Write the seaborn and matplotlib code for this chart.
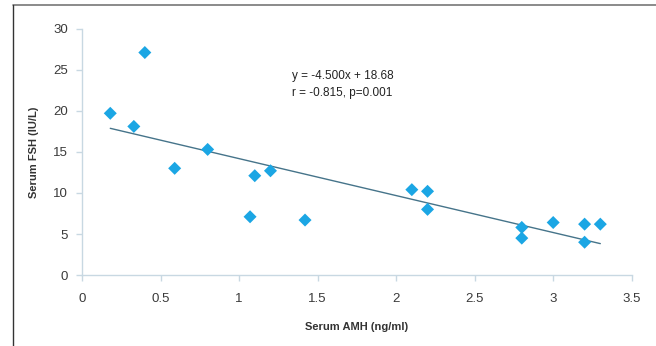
import matplotlib
matplotlib.use("Agg")
import matplotlib.pyplot as plt
import seaborn as sns
import numpy as np
import pandas as pd
from matplotlib.lines import Line2D

amh = [0.18, 0.33, 0.40, 0.59, 0.80, 1.07, 1.10, 1.20, 1.42, 2.10, 2.20, 2.20, 2.80, 2.80, 3.00, 3.20, 3.20, 3.30]
fsh = [19.7, 18.1, 27.1, 13.0, 15.3, 7.1, 12.1, 12.7, 6.7, 10.4, 10.2, 8.0, 5.8, 4.5, 6.4, 6.2, 4.0, 6.2]
slope = -4.500
intercept = 18.68
eq_text = "y = -4.500x + 18.68"
r_text = "r = -0.815, p=0.001"
x_ticks = [0, 0.5, 1, 1.5, 2, 2.5, 3, 3.5]
x_tick_labels = ["0", "0.5", "1", "1.5", "2", "2.5", "3", "3.5"]
y_ticks = [0, 5, 10, 15, 20, 25, 30]

df = pd.DataFrame({"amh": amh, "fsh": fsh})

sns.set_theme(style="white")
plt.rcParams['font.family'] = ['Liberation Sans', 'DejaVu Sans']

fig = plt.figure(figsize=(6.56, 3.46), dpi=100)
ax = fig.add_axes([0.125, 0.205, 0.838, 0.712])

sns.scatterplot(data=df, x="amh", y="fsh", marker="D", s=44, color="#1ba6e4",
                edgecolor="none", ax=ax, zorder=3)

xl = np.array([min(amh), max(amh)])
ax.plot(xl, slope * xl + intercept, color="#46748a", lw=1.0, zorder=2)

ax.set_xlim(0, 3.5)
ax.set_ylim(0, 30)
ax.set_xticks(x_ticks)
ax.set_xticklabels(x_tick_labels)
ax.set_yticks(y_ticks)

for s in ["top", "right"]:
    ax.spines[s].set_visible(False)
for s in ["left", "bottom"]:
    ax.spines[s].set_color("#c8d8e2")
    ax.spines[s].set_linewidth(1.0)

ax.tick_params(axis="both", which="major", direction="out", length=4, width=1,
               color="#c8d8e2", labelsize=9.5, labelcolor="#3a3a3a",
               bottom=True, left=True)
ax.tick_params(axis="x", pad=9)
ax.tick_params(axis="y", pad=6)

ax.set_xlabel("Serum AMH (ng/ml)", fontsize=8, fontweight="bold", color="#333333", labelpad=12)
ax.set_ylabel("Serum FSH (IU/L)", fontsize=8, fontweight="bold", color="#333333", labelpad=10)

ax.text(1.34, 24.2, eq_text, fontsize=8.5, color="#222222", va="center", ha="left")
ax.text(1.34, 22.2, r_text, fontsize=8.5, color="#222222", va="center", ha="left")

# outer frame fragments (top and left border)
ytop = 1 - 5 / 346
xleft = 13 / 656
fig.add_artist(Line2D([xleft, 1.0], [ytop, ytop], transform=fig.transFigure, color="#777777", lw=1.2))
fig.add_artist(Line2D([xleft, xleft], [0, ytop], transform=fig.transFigure, color="#333333", lw=1.0))

fig.savefig("out.png", dpi=100)
